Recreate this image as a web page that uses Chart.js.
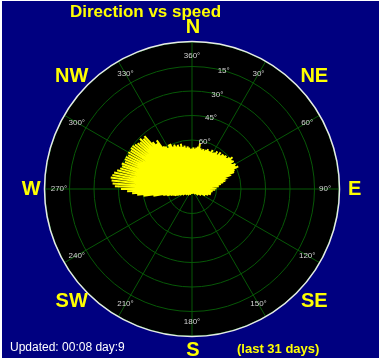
<!DOCTYPE html>
<html>
<head>
<meta charset="utf-8">
<script src="https://cdn.jsdelivr.net/npm/chart.js@4.4.0/dist/chart.umd.min.js"></script>
<style>
    html, body { margin: 0; padding: 0; background: #fff; }
    #wrap { width: 382px; height: 361px; }
</style>
</head>
<body>
<div id="wrap"><canvas id="chart" width="382" height="361"></canvas></div>
<script>
// wind samples: direction (deg, clockwise from N) and speed (outer ring = 60)
const directions = [
    116, 124, 134, 146, 160, 172, 186, 200, 214, 228, 238, 244, 248, 250, 252, 254, 256, 258,
    260, 262, 264, 266, 268, 270, 272, 274, 276, 278, 280, 282, 284, 286, 288, 290, 292, 294,
    296, 298, 300, 302, 304, 306, 308, 310, 312, 314, 316, 318, 320, 322, 324, 326, 328, 330,
    332, 334, 336, 338, 340, 342, 344, 346, 348, 350, 352, 354, 356, 358, 0, 2, 4, 6,
    8, 10, 12, 14, 16, 18, 20, 22, 24, 26, 28, 30, 32, 34, 36, 38, 40, 42,
    44, 46, 48, 50, 52, 54, 56, 58, 60, 62, 64, 66, 68, 70, 72, 74, 76, 78,
    80, 84, 88, 92, 96, 100, 106, 110,
];
const speeds = [
    6, 4.5, 3.5, 2.5, 2, 2, 2, 2.5, 3, 3.5, 4.5, 5.5, 6.5, 7.5, 8, 9, 10.5, 12,
    16, 20, 22.5, 24.5, 26.5, 29, 31.5, 32.5, 33, 33.5, 33, 32.5, 31.5, 30.5, 30, 30.5, 29.5, 30,
    30, 29.5, 30, 29.5, 30, 30, 29.5, 29, 28.5, 29.5, 28.5, 29, 25, 23.5, 24.5, 21, 20.5, 19.5,
    20.5, 20.5, 19, 19.5, 18.5, 19, 18, 19, 17.5, 18, 17, 17.5, 17, 16.5, 16.5, 17, 16.5, 17,
    17.5, 19, 17, 16.5, 17, 16.5, 17, 17.5, 17, 17, 18, 17, 17.5, 18.5, 17.5, 19, 18, 19,
    19, 19.5, 19, 20, 21, 20, 20.5, 19.5, 20.5, 20, 21, 19, 18.5, 17, 15.5, 14.5, 14, 13,
    12, 11, 10, 9.5, 8.5, 8, 8, 7,
];

const ringValues = [10, 20, 30, 40, 50, 60];
const ringLabels = ['', '60°', '45°', '30°', '15°', ''];
const spokeAngles = [0, 30, 60, 90, 120, 150, 180, 210, 240, 270, 300, 330];
const spokeLabels = ['360°', '30°', '60°', '90°', '120°', '150°', '180°', '210°', '240°', '270°', '300°', '330°'];
const compassAngles = [0, 45, 90, 135, 180, 225, 270, 315];
const compassLabels = ['N', 'NE', 'E', 'SE', 'S', 'SW', 'W', 'NW'];

const NAVY = '#000080';
const GRID = '#075807';
const YELLOW = '#ffff00';

const rad = (d) => d * Math.PI / 180;

// segments from the centre to each sample, NaN breaks the line between them
const points = [];
directions.forEach((d, i) => {
    points.push({ x: 0, y: 0 });
    points.push({ x: speeds[i] * Math.sin(rad(d)), y: speeds[i] * Math.cos(rad(d)) });
    points.push({ x: NaN, y: NaN });
});

function polar(chart, deg, r) {
    const { x, y } = chart.scales;
    return [x.getPixelForValue(r * Math.sin(rad(deg))), y.getPixelForValue(r * Math.cos(rad(deg)))];
}

const polarGrid = {
    id: 'polarGrid',
    beforeDraw(chart) {
        const { ctx, width, height } = chart;
        const [cx, cy] = polar(chart, 0, 0);
        const R = chart.scales.x.getPixelForValue(60) - cx;
        ctx.save();
        ctx.fillStyle = '#fff';
        ctx.fillRect(0, 0, width, height);
        ctx.fillStyle = NAVY;
        ctx.fillRect(2, 1, width - 5, height - 4);
        ctx.fillStyle = '#000';
        ctx.beginPath(); ctx.arc(cx, cy, R, 0, Math.PI * 2); ctx.fill();
        ctx.restore();
    },
    beforeDatasetsDraw(chart) {
        const { ctx } = chart;
        const [cx, cy] = polar(chart, 0, 0);
        const xs = chart.scales.x;
        ctx.save();
        ctx.strokeStyle = GRID;
        ctx.lineWidth = 1;
        ringValues.forEach((v) => {
            const r = xs.getPixelForValue(v) - cx;
            ctx.beginPath(); ctx.arc(cx, cy, r, 0, Math.PI * 2); ctx.stroke();
        });
        spokeAngles.forEach((a) => {
            const [px, py] = polar(chart, a, 60);
            ctx.beginPath(); ctx.moveTo(cx, cy); ctx.lineTo(px, py); ctx.stroke();
        });
        ctx.restore();
    },
    afterDatasetsDraw(chart) {
        const { ctx } = chart;
        const [cx, cy] = polar(chart, 0, 0);
        const R = chart.scales.x.getPixelForValue(60) - cx;
        ctx.save();
        ctx.strokeStyle = '#e8e8e8';
        ctx.lineWidth = 1.5;
        ctx.beginPath(); ctx.arc(cx, cy, R + 0.5, 0, Math.PI * 2); ctx.stroke();

        ctx.font = '8px "Liberation Sans", Arial, sans-serif';
        ctx.fillStyle = '#d4d4d4';
        ctx.textAlign = 'center';
        ctx.textBaseline = 'middle';
        spokeAngles.forEach((a, i) => {
            const [px, py] = polar(chart, a, 54.3);
            ctx.fillText(spokeLabels[i], px, py);
        });
        ringValues.forEach((v, i) => {
            if (!ringLabels[i]) return;
            const [px, py] = polar(chart, 15, v);
            ctx.fillText(ringLabels[i], px, py);
        });

        // compass points: diagonals sit further out and a little flattened
        ctx.fillStyle = YELLOW;
        ctx.font = 'bold 20px "Liberation Sans", Arial, sans-serif';
        compassAngles.forEach((a, i) => {
            const diag = a % 90 !== 0;
            let [px, py] = polar(chart, a, diag ? 70 : 66);
            if (diag) py = cy + (py - cy) * 0.93;
            ctx.fillText(compassLabels[i], px + 1, py);
        });

        ctx.textAlign = 'left';
        ctx.font = 'bold 17px "Liberation Sans", Arial, sans-serif';
        ctx.fillText('Direction vs speed', 70, 12);

        ctx.font = 'bold 13px "Liberation Sans", Arial, sans-serif';
        ctx.fillText('(last 31 days)', 237, 349);

        ctx.fillStyle = '#ffffff';
        ctx.font = '12px "Liberation Sans Narrow", "Liberation Sans", Arial, sans-serif';
        ctx.fillText('Updated: 00:08 day:9', 10, 348);
        ctx.restore();
    },
};

new Chart(document.getElementById('chart'), {
    type: 'scatter',
    data: {
        datasets: [{
            data: points,
            showLine: true,
            spanGaps: false,
            borderColor: YELLOW,
            borderWidth: 2,
            pointRadius: 0,
            pointHoverRadius: 0,
        }],
    },
    options: {
        responsive: false,
        animation: false,
        layout: { padding: { left: 45, right: 43, top: 42, bottom: 25 } },
        plugins: { legend: { display: false }, tooltip: { enabled: false } },
        scales: {
            x: { type: 'linear', min: -60, max: 60, display: false },
            y: { type: 'linear', min: -60, max: 60, display: false },
        },
    },
    plugins: [polarGrid],
});
</script>
</body>
</html>
